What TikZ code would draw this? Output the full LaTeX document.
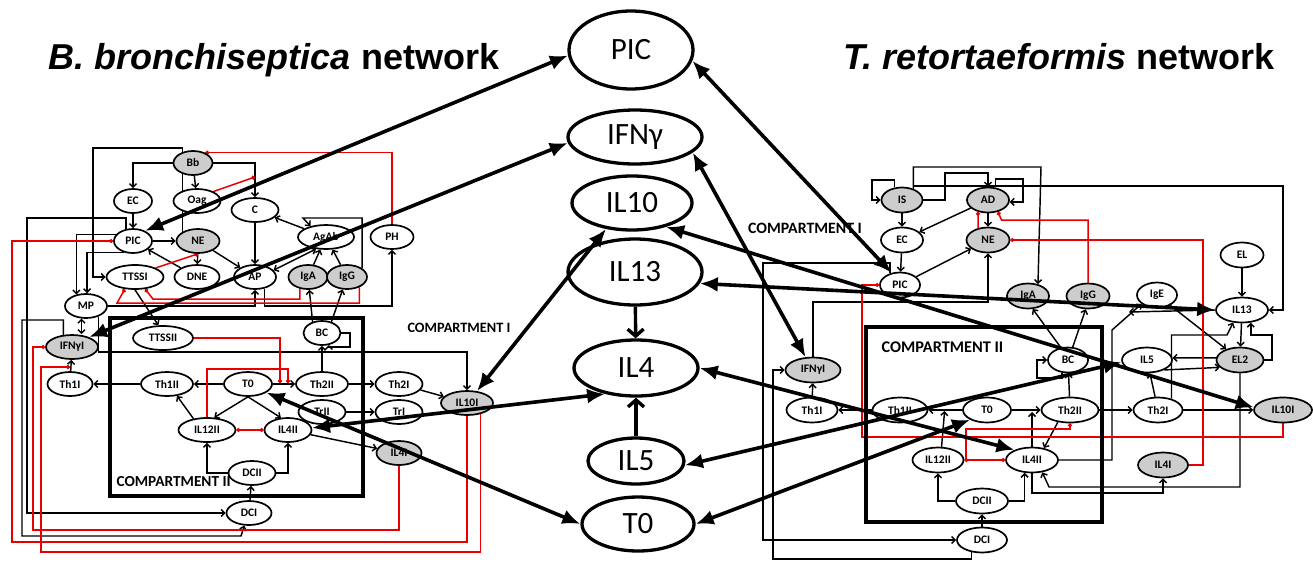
\documentclass[tikz,border=0pt]{standalone}
\usepackage{fontspec}
\setmainfont{Carlito}
\newfontfamily\titlefont{Liberation Sans}
\usetikzlibrary{arrows.meta,shapes.geometric,backgrounds,calc}
\definecolor{nodegray}{RGB}{205,205,205}
\definecolor{inhib}{RGB}{232,0,0}
\tikzset{
  sm/.style={ellipse,draw,line width=1.7pt,fill=white,inner sep=0pt,minimum height=24pt,
    font=\bfseries\fontsize{11.5}{12}\selectfont},
  gr/.style={sm,fill=nodegray},
  smr/.style={sm,minimum height=25pt},
  grr/.style={gr,minimum height=25pt},
  big/.style={ellipse,draw,line width=3.3pt,fill=white,inner sep=0pt,font=\fontsize{31}{33}\selectfont},
  act/.style={draw,line width=1.45pt,-{Straight Barb[length=3.5pt,width=7pt]}},
  dact/.style={draw,line width=1.45pt,{Straight Barb[length=3.5pt,width=7pt]}-{Straight Barb[length=3.5pt,width=7pt]}},
  inh/.style={draw=inhib,line width=1.5pt,-{Circle[length=4pt]}},
  dinh/.style={draw=inhib,line width=1.5pt,{Circle[length=4pt]}-{Circle[length=4pt]}},
  link/.style={draw,line width=3.6pt,{Latex[length=18pt,width=15pt]}-{Latex[length=18pt,width=15pt]}},
  feed/.style={draw,line width=3.4pt,-{Straight Barb[length=7pt,width=16pt]}},
  comp/.style={draw,line width=3.4pt},
  clabel/.style={font=\bfseries\fontsize{15.3}{16}\selectfont},
  title/.style={anchor=base,font=\titlefont\bfseries\fontsize{36}{40}\selectfont},
}
\begin{document}
\begin{tikzpicture}[x=1pt,y=-1pt]
\useasboundingbox (0,0) rectangle (1313,563);

% ---------- titles ----------
\node[title] (titleB) at (274,69) {\itshape B. bronchiseptica\upshape\ network};
\node[title] (titleT) at (1059,69) {\itshape T. retortaeformis\upshape\ network};

% ---------- compartment frames ----------
\draw[comp] (110,318) rectangle (363,496);
\draw[comp] (866,327) rectangle (1102,522);
\node[clabel,anchor=west] (bcomp2) at (113,482) {COMPARTMENT II};
\node[clabel,anchor=west,font=\bfseries\fontsize{16.3}{17}\selectfont] (tcomp2) at (878,347) {COMPARTMENT II};
\node[clabel,font=\bfseries\fontsize{14.3}{15}\selectfont] (bcomp1) at (459,328) {COMPARTMENT I};
\node[clabel,font=\bfseries\fontsize{15.8}{16}\selectfont] (tcomp1) at (805,228) {COMPARTMENT I};

% ---------- B. bronchiseptica nodes ----------
\node[gr,minimum width=39pt] (bBb) at (193,163) {Bb};
\node[sm,minimum width=38pt] (bEC) at (133,201) {EC};
\node[sm,minimum width=47pt] (bOag) at (197,201) {Oag};
\node[sm,minimum width=47pt] (bC) at (255,210) {C};
\node[sm,minimum width=56pt] (bAgAb) at (326,237) {AgAb};
\node[sm,minimum width=43pt] (bPH) at (392,237) {PH};
\node[sm,minimum width=38pt] (bPIC) at (133,241) {PIC};
\node[gr,minimum width=43pt] (bNE) at (198,241) {NE};
\node[sm,minimum width=57pt] (bTTSSI) at (135,277) {TTSSI};
\node[sm,minimum width=45pt] (bDNE) at (197,277) {DNE};
\node[sm,minimum width=42pt] (bAP) at (255,277) {AP};
\node[gr,minimum width=39pt] (bIgA) at (308,277) {IgA};
\node[gr,minimum width=40pt] (bIgG) at (347,277) {IgG};
\node[sm,minimum width=42pt] (bMP) at (86,306) {MP};
\node[gr,minimum width=52pt] (bIFNyI) at (72,347) {IFNγI};
\node[sm,minimum width=60pt] (bTTSSII) at (163,338) {TTSSII};
\node[sm,minimum width=37pt] (bBC) at (322,333) {BC};
\node[sm,minimum width=45pt] (bTh1I) at (70,384) {Th1I};
\node[sm,minimum width=52pt] (bTh1II) at (167,384) {Th1II};
\node[sm,minimum width=48pt] (bT0) at (248,384) {T0};
\node[sm,minimum width=52pt] (bTh2II) at (322,384) {Th2II};
\node[sm,minimum width=47pt] (bTh2I) at (399,384) {Th2I};
\node[sm,minimum width=47pt] (bTrII) at (322,412) {TrII};
\node[sm,minimum width=47pt] (bTrI) at (399,412) {TrI};
\node[gr,minimum width=52pt] (bIL10I) at (467,403) {IL10I};
\node[sm,minimum width=57pt] (bIL12II) at (207,430) {IL12II};
\node[sm,minimum width=47pt] (bIL4II) at (288,430) {IL4II};
\node[gr,minimum width=45pt] (bIL4I) at (399,453) {IL4I};
\node[sm,minimum width=47pt] (bDCII) at (252,473) {DCII};
\node[sm,minimum width=45pt] (bDCI) at (249,513) {DCI};

% ---------- T. retortaeformis nodes ----------
\node[grr,minimum width=41pt] (tIS) at (902,200) {IS};
\node[grr,minimum width=42pt] (tAD) at (988,200) {AD};
\node[smr,minimum width=42pt] (tEC) at (902,240) {EC};
\node[grr,minimum width=43pt] (tNE) at (988,240) {NE};
\node[smr,minimum width=40pt] (tPIC) at (900,285) {PIC};
\node[grr,minimum width=42pt] (tIgA) at (1028,296) {IgA};
\node[grr,minimum width=43pt] (tIgG) at (1088,296) {IgG};
\node[smr,minimum width=40pt] (tIgE) at (1157,295) {IgE};
\node[smr,minimum width=43pt] (tEL) at (1242,255) {EL};
\node[smr,minimum width=52pt] (tIL13) at (1242,310) {IL13};
\node[grr,minimum width=55pt] (tIFNyI) at (813,370) {IFNγI};
\node[smr,minimum width=40pt] (tBC) at (1068,360) {BC};
\node[smr,minimum width=50pt] (tIL5) at (1147,360) {IL5};
\node[grr,minimum width=47pt] (tEL2) at (1240,360) {EL2};
\node[smr,minimum width=51pt] (tTh1I) at (812,410) {Th1I};
\node[smr,minimum width=55pt] (tTh1II) at (900,410) {Th1II};
\node[smr,minimum width=48pt] (tT0) at (987,410) {T0};
\node[smr,minimum width=57pt] (tTh2II) at (1070,410) {Th2II};
\node[smr,minimum width=49pt] (tTh2I) at (1158,410) {Th2I};
\node[grr,minimum width=58pt] (tIL10I) at (1283,410) {IL10I};
\node[smr,minimum width=51pt] (tIL12II) at (938,460) {IL12II};
\node[smr,minimum width=52pt] (tIL4II) at (1032,460) {IL4II};
\node[grr,minimum width=50pt] (tIL4I) at (1163,465) {IL4I};
\node[smr,minimum width=52pt] (tDCII) at (982,501) {DCII};
\node[smr,minimum width=50pt] (tDCI) at (982,540) {DCI};

% ---------- shared cytokine nodes ----------
\node[big,minimum width=124pt,minimum height=78pt] (cPIC) at (631,50) {PIC};
\node[big,minimum width=134pt,minimum height=54pt] (cIFNy) at (635,137) {IFNγ};
\node[big,minimum width=120pt,minimum height=54pt] (cIL10) at (632,203) {IL10};
\node[big,minimum width=134pt,minimum height=66pt] (cIL13) at (635,272) {IL13};
\node[big,minimum width=124pt,minimum height=56pt] (cIL4) at (636,368) {IL4};
\node[big,minimum width=96pt,minimum height=46pt] (cIL5) at (636,461) {IL5};
\node[big,minimum width=112pt,minimum height=54pt] (cT0) at (638,524) {T0};

% junction points on edges
\coordinate (bBbC) at (255,177);
\coordinate (bJa) at (280,383);
\coordinate (bJb) at (288,383);
\coordinate (bTh1Iup) at (70,367);
\coordinate (tJ1) at (944.6,411);
\coordinate (tJ2) at (1032,412);
\coordinate (tJ3) at (1129,312);
\coordinate (tJr) at (966,460);

\begin{scope}[on background layer]
% ---- B. bronchiseptica: activations ----
\path[act] (bBb.west) -| (bEC.north);
\path[act] (bBb) -- (bOag);
\path[act] (bBb.east) -| (bC.north);
\path[act] (bNE.150) |- (93,148) |- (bTTSSI.west);
\path[act] (bEC) -- (bPIC);
\path[act] (bPIC) -- (bNE);
\path[act] (bNE) -- (bDNE);
\path[act] (bDNE) -- (bPIC);
\path[act] (bNE) -- (bAP);
\path[act] (bPIC.120) |- (27,218) |- (bDCI.west);
\path[act] (bPIC.160) -| (bMP.130);
\path[act] (bPIC.230) -| (bMP.85);
\path[act] (bIFNyI.125) |- (22,320) |- (241,536) -- (bDCI.250);
\path[dact] (bMP.250) -- (bMP.250 |- bIFNyI.north);
\path[act] (bMP.east) -| (bAP.south);
\path[act] (bAP.-50) |- (392,306) -- (bPH.south);
\path[act] (bC) -- (bAP);
\path[act] (bAgAb) -- (bC);
\path[dact] (bAP.20) -- (bAgAb.230);
\path[act] (bIgA) -- (bAgAb);
\path[act] (bIgG) -- (bAgAb);
\path[act] (bIgG.30) |- (303,218) -- (bAgAb.145);
\path[act] (bBC.130) -- (bIgA);
\path[act] (bBC.50) -- (bIgG);
\path[act] (bBC.east) -| (350,347) -| (bBC.-60);
\path[act] (bTh2II) -- (bBC);
\path[act] (bMP.-40) |- (467,352) -- (bIL10I.north);
\path[act] (bTTSSI.south) -- (bTTSSII.110);
\path[act] (bT0) -- (bTh1II);
\path[act] (bT0) -- (bTh2II);
\path[act] (bTh1II) -- (bTh1I);
\path[act] (bTh1I) -- (bIFNyI);
\path[act] (bT0.south) -- (bIL12II.60);
\path[act] (bT0.south) -- (bIL4II.120);
\path[act] (bIL12II.140) -- (bTh1II.-50);
\path[act] (bDCII.west) -| (bIL12II.south);
\path[act] (bDCII.east) -| (bIL4II.south);
\path[act] (bDCI) -- (bDCII);
\path[act] (bTh2II) -- (bTh2I);
\path[act] (bTrII) -- (bTrI);
\path[act] (bTh2I) -- (bIL10I);
\path[act] (bIL4II) -- (bIL4I);
% ---- B. bronchiseptica: inhibitions ----
\path[inh] (bPH.north) |- (bBb.40);
\path[inh] (bOag.30) -- (bBbC);
\path[inh] (bTTSSI.north east) -- (bNE.south);
\path[inh] (bIL10I.south) |- (12,542) |- (bPIC.west);
\path[inh] (bIL10I.-40) |- (41,552) |- (bTh1Iup);
\path[inh] (bIL4I.south) |- (33,530) |- (bIFNyI.west);
\path[inh] (bTTSSII.east) -| (bJa);
\path[inh] (bIL12II.north) |- (288,369) -- (bJb);
\path[inh] (bIgA.235) |- (153,299) -- (bTTSSI.-50);
\path[inh] (bIgG.-40) |- (117,303) -- (bTTSSI.-130);
\path[dinh] (bIL12II) -- (bIL4II);

% ---- T. retortaeformis: activations ----
\path[act] (tIS.120) |- (872,180) |- (tIS.west);
\path[act] (tIS.east) -| (945,173) -| (tAD.north);
\path[act] (tIS.45) |- (1041,167) -- (tIgA.50);
\path[act] (tIS.45) |- (1283,186) |- (tIL13.east);
\path[act] (tAD.60) |- (1023,179) |- (tAD.-5);
\path[act] (tIS) -- (tEC);
\path[act] (tAD) -- (tEC);
\path[act] (tAD) -- (tNE);
\path[act] (tEC) -- (tPIC);
\path[act] (tPIC) -- (tNE);
\path[act] (tTh1I) -- (tIFNyI);
\path[act] (tTh1II) -- (tTh1I);
\path[act] (tT0) -- (tTh1II);
\path[act] (tT0) -- (tTh2II);
\path[act] (tIL12II.75) -- (tJ1);
\path[act] (tIL4II.north) -- (tJ2);
\path[act] (tTh2II.-135) -- (tIL4II.45);
\path[act] (tTh2II) -- (tTh2I);
\path[act] (tTh2I) -- (tIL5);
\path[act] (tTh2I) -- (tIL10I);
\path[act] (tTh2I.40) |- (1227,335) -- (tIL13.-125);
\path[act] (tEL2.east) -| (1272,335) -| (tIL13.-55);
\path[act] (tIL13) -- (tEL2);
\path[act] (tEL) -- (tIL13);
\path[act] (tEL2.175) -- (tIL5.5);
\path[act] (tIL5.-30) -- (tEL2.200);
\path[act] (tIgE) -- (tEL2);
\path[act] (tIL4II.east) -| (1112,330) -- (tIgE.210);
\path[act] (tIL13.west) -- (tJ3);
\path[act] (tBC.120) -- (tIgA.-70);
\path[act] (tBC.70) -- (tIgG.-100);
\path[act] (tBC.-115) |- (1037,378) |- (tBC.west);
\path[act] (tTh2II) -- (tBC);
\path[act] (tIFNyI.north) |- (988,302) -- (tNE.south);
\path[act] (tPIC.130) |- (763,263) |- (tDCI.west);
\path[act] (tDCI.-130) |- (773,559) |- (tIFNyI.west);
\path[act] (tDCI) -- (tDCII);
\path[act] (tDCII.west) -| (tIL12II.south);
\path[act] (tDCII.east) -| (tIL4II.-120);
\path[act] (tEL2.south) |- (1049,487) -- (tIL4II.-50);
\path[act] (tIL4II.south) |- (1163,493) -- (tIL4I.south);
% ---- T. retortaeformis: inhibitions ----
\path[inh] (tIgG.north) |- (1001.5,220) -- (tAD.-50);
\path[inh] (tNE.130) -- (tAD.-130);
\path[inh] (tIL4I.east) -| (1203,240) -- (tNE.east);
\path[inh] (tIL10I.south) |- (862,437) |- (tPIC.west);
\path[inh] (tJr) |- (1070,429) -- (tTh2II.south);
\path[dinh] (tIL12II) -- (tIL4II);
\end{scope}

% ---------- links between the networks and the shared cytokines ----------
\path[link] (bPIC.40) -- (cPIC.185);
\path[link] (bIFNyI.30) -- (cIFNy.185);
\path[link] (bIL10I.50) -- (cIL10.225);
\path[link] (bIL4II.5) -- (cIL4.220);
\path[link] (bT0.-25) -- (cT0.180);
\path[link] (cPIC.-10) -- (tPIC.125);
\path[link] (cIFNy.-15) -- (tIFNyI.120);
\path[link] (cIL10.-35) -- (tIL10I.175);
\path[link] (cIL13.-10) -- (tIL13.180);
\path[link] (cIL4.0) -- (tIL4II.150);
\path[link] (cIL5.-5) -- (tIL5.185);
\path[link] (cT0.0) -- (tT0.210);
\path[feed] (cIL13) -- (cIL4);
\path[feed] (cIL5) -- (cIL4);
\end{tikzpicture}
\end{document}
